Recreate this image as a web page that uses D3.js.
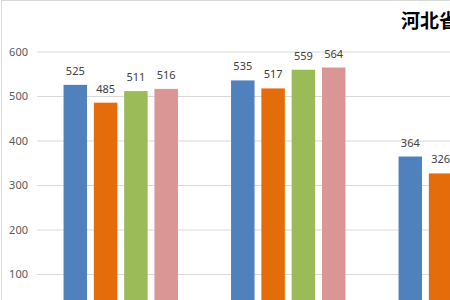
<!DOCTYPE html>
<html>
<head>
<meta charset="utf-8">
<script src="https://cdn.jsdelivr.net/npm/d3@7"></script>
<style>
  html, body { margin: 0; padding: 0; background: #fff; }
  svg { display: block; }
</style>
</head>
<body>
<script>
// data (third group only shows two bars, rest is cut off)
const categories = ['一', '二', '三'];
const seriesNames = ['s1', 's2', 's3', 's4'];
const seriesColors = ['#4f81bd', '#e46c0a', '#9bbb59', '#d99694'];
const values = [
  [525, 485, 511, 516],
  [535, 517, 559, 564],
  [364, 326, null, null]
];
const yTicks = [100, 200, 300, 400, 500, 600];
const title = '河北省';

const width = 450;
const height = 300;
const plotLeft = 37;
const groupStep = 167.5;

const svg = d3.select('body')
  .append('svg')
  .attr('width', width)
  .attr('height', height);

// chart area border (top and left edges show)
svg.append('rect')
  .attr('x', 1.5)
  .attr('y', 0.5)
  .attr('width', width + 10)
  .attr('height', height + 10)
  .attr('fill', 'none')
  .attr('stroke', '#d9d9d9');

// scales
const x0 = d3.scaleBand()
  .domain(categories)
  .range([plotLeft, plotLeft + groupStep * categories.length])
  .paddingInner(0.317)
  .paddingOuter(0.1585);

const x1 = d3.scaleBand()
  .domain(seriesNames)
  .range([0, x0.bandwidth()])
  .paddingInner(0.225)
  .paddingOuter(0);

const y = d3.scaleLinear()
  .domain([0, 600])
  .range([318.5, 51.5]);

// gridlines + tick labels (0 line sits below the visible area)
const yAxis = d3.axisLeft(y)
  .tickValues(yTicks)
  .tickSize(-(width - plotLeft))
  .tickPadding(9);

const yG = svg.append('g')
  .attr('transform', `translate(${plotLeft}, 0)`)
  .call(yAxis);

yG.select('.domain').remove();
yG.selectAll('.tick line')
  .attr('stroke', '#d9d9d9');
yG.selectAll('.tick text')
  .attr('fill', '#595959')
  .attr('font-family', '"Noto Sans", sans-serif')
  .attr('font-size', 11);

// bars
const groups = svg.selectAll('.group')
  .data(values)
  .enter()
  .append('g')
  .attr('class', 'group')
  .attr('transform', (d, i) => `translate(${x0(categories[i])}, 0)`);

const cells = d => d.map((v, j) => ({ key: seriesNames[j], value: v, color: seriesColors[j] }))
  .filter(c => c.value !== null);

groups.selectAll('rect')
  .data(cells)
  .enter()
  .append('rect')
  .attr('x', d => x1(d.key))
  .attr('y', d => y(d.value))
  .attr('width', x1.bandwidth())
  .attr('height', d => y(0) - y(d.value))
  .attr('fill', d => d.color);

// value labels above bars
groups.selectAll('text')
  .data(cells)
  .enter()
  .append('text')
  .text(d => d.value)
  .attr('x', d => x1(d.key) + x1.bandwidth() / 2)
  .attr('y', d => y(d.value) - 10)
  .attr('text-anchor', 'middle')
  .attr('fill', '#404040')
  .attr('font-family', '"Noto Sans", sans-serif')
  .attr('font-size', 11);

// title (mostly cut off on the right)
svg.append('text')
  .text(title)
  .attr('x', 401)
  .attr('y', 28)
  .attr('fill', '#000')
  .attr('font-family', '"Noto Sans CJK SC", sans-serif')
  .attr('font-weight', 'bold')
  .attr('font-size', 19);
</script>
</body>
</html>
